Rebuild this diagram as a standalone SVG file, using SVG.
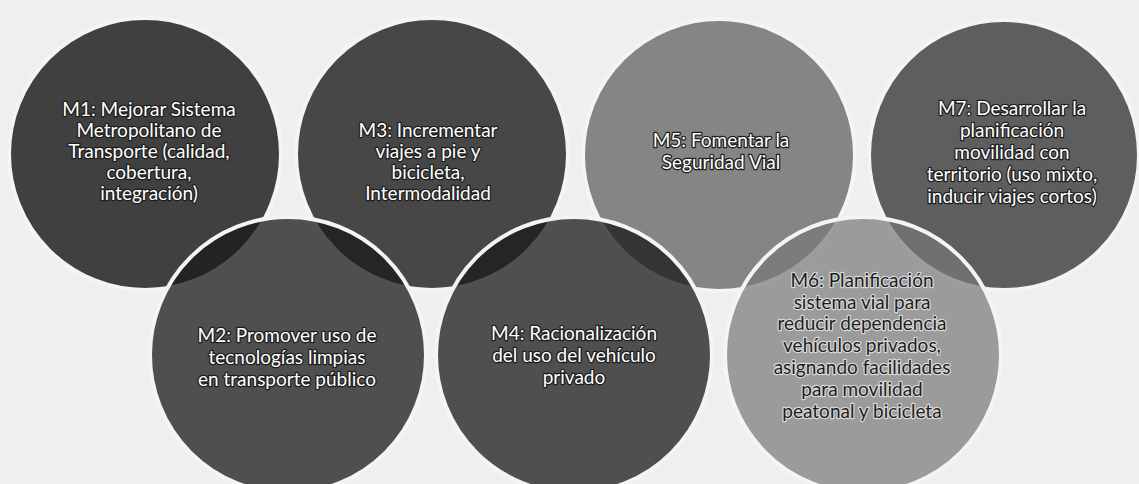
<svg xmlns="http://www.w3.org/2000/svg" width="1139" height="484" viewBox="0 0 1139 484">
<style>
.bg{fill:#efefef}
.c{stroke:#f4f4f4;stroke-width:4}
.t{font-family:Lato,"Liberation Sans",sans-serif;font-size:19px;text-anchor:middle;fill:#ffffff;stroke:#1e1e1e;stroke-width:2.6px;paint-order:stroke;stroke-linejoin:round}
.td{font-family:Lato,"Liberation Sans",sans-serif;font-size:19px;text-anchor:middle;fill:#1e1e1e;stroke:#d8d8d8;stroke-width:2.4px;paint-order:stroke;stroke-linejoin:round}
</style>
<rect class="bg" x="0" y="0" width="1139" height="484"/>
<g id="connectors"></g>
<g id="M1">
<circle class="c" cx="145" cy="154" r="136" fill="#404040"/>
<text class="t" x="149"><tspan x="149" y="116">M1: Mejorar Sistema</tspan><tspan x="149" y="137">Metropolitano de</tspan><tspan x="149" y="158">Transporte (calidad,</tspan><tspan x="149" y="179">cobertura,</tspan><tspan x="149" y="200">integración)</tspan></text>
</g>
<g id="M3">
<circle class="c" cx="432" cy="154" r="136" fill="#474747"/>
<text class="t"><tspan x="428" y="137">M3: Incrementar</tspan><tspan x="428" y="158">viajes a pie y</tspan><tspan x="428" y="179">bicicleta,</tspan><tspan x="428" y="200">Intermodalidad</tspan></text>
</g>
<g id="M5">
<circle class="c" cx="719" cy="155" r="136" fill="#858585"/>
<text class="t"><tspan x="721" y="147">M5: Fomentar la</tspan><tspan x="721" y="169">Seguridad Vial</tspan></text>
</g>
<g id="M7">
<circle class="c" cx="1004" cy="155" r="135" fill="#5e5e5e"/>
<text class="t"><tspan x="1012" y="115">M7: Desarrollar la</tspan><tspan x="1012" y="137">planificación</tspan><tspan x="1012" y="159">movilidad con</tspan><tspan x="1012" y="181">territorio (uso mixto,</tspan><tspan x="1012" y="203">inducir viajes cortos)</tspan></text>
</g>
<g id="M2">
<circle class="c" cx="288" cy="355" r="138" fill="#1a1a1a" fill-opacity="0.75"/>
<text class="t"><tspan x="287" y="342">M2: Promover uso de</tspan><tspan x="287" y="364">tecnologías limpias</tspan><tspan x="287" y="386">en transporte público</tspan></text>
</g>
<g id="M4">
<circle class="c" cx="574" cy="355" r="138" fill="#1a1a1a" fill-opacity="0.75"/>
<text class="t"><tspan x="574" y="340">M4: Racionalización</tspan><tspan x="574" y="362">del uso del vehículo</tspan><tspan x="574" y="384">privado</tspan></text>
</g>
<g id="M6">
<circle class="c" cx="863" cy="355" r="138" fill="#787878" fill-opacity="0.7"/>
<text class="td"><tspan x="862" y="287">M6: Planificación</tspan><tspan x="862" y="309">sistema vial para</tspan><tspan x="862" y="330">reducir dependencia</tspan><tspan x="862" y="352">vehículos privados,</tspan><tspan x="862" y="374">asignando facilidades</tspan><tspan x="862" y="396">para movilidad</tspan><tspan x="862" y="418">peatonal y bicicleta</tspan></text>
</g>
</svg>
